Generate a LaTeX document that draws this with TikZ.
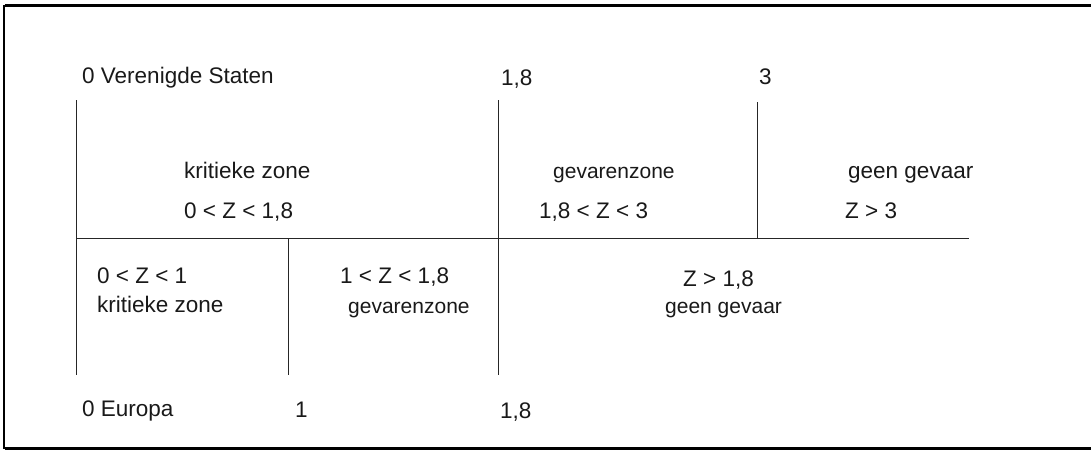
\documentclass[tikz,border=0pt]{standalone}
\usepackage{fontspec}
\setmainfont{Liberation Sans}
\begin{document}
\begin{tikzpicture}[x=1pt,y=-1pt,
  lbl/.style={anchor=base west,inner sep=0pt,text=black!90,font=\fontsize{22.5}{26}\selectfont},
  slbl/.style={lbl,font=\fontsize{21}{25}\selectfont},
  grid/.style={line width=1pt,black!85}]
\useasboundingbox (0,0) rectangle (1091,452);
% frame (open at the right)
\draw[line width=3pt] (1100,6) -- (5,6);
\draw[line width=1.4pt] (4,5) -- (4,449);
\draw[line width=3pt] (5,448.5) -- (1100,448.5);
% grid coordinates
\coordinate (aT) at (76,100);  \coordinate (aB) at (76,375);
\coordinate (bT) at (498,100); \coordinate (bB) at (498,375);
\coordinate (cT) at (757,102); \coordinate (cB) at (757,238);
\coordinate (dT) at (288,238); \coordinate (dB) at (288,375);
\coordinate (hL) at (76,238);  \coordinate (hR) at (969,238);
\draw[grid] (aT) -- (aB);
\draw[grid] (bT) -- (bB);
\draw[grid] (cT) -- (cB);
\draw[grid] (dT) -- (dB);
\draw[grid] (hL) -- (hR);
% top scale
\node[lbl] (us)  at (82,83)  {0 Verenigde Staten};
\node[lbl] (u18) at (501,85) {1,8};
\node[lbl] (u3)  at (759,84) {3};
% upper zones
\node[lbl] (k1) at (184,178) {kritieke zone};
\node[lbl] (k2) at (184,218) {0 < Z < 1,8};
\node[slbl] (g1) at (553,178) {gevarenzone};
\node[lbl] (g2) at (539,218) {1,8 < Z < 3};
\node[lbl] (n1) at (848,178) {geen gevaar};
\node[lbl] (n2) at (845,218) {Z > 3};
% lower zones
\node[lbl] (ek1) at (97,283)  {0 < Z < 1};
\node[lbl] (ek2) at (97,312)  {kritieke zone};
\node[lbl] (eg1) at (340,283) {1 < Z < 1,8};
\node[slbl] (eg2) at (348,313) {gevarenzone};
\node[lbl] (en1) at (683,286) {Z > 1,8};
\node[slbl] (en2) at (665,313) {geen gevaar};
% bottom scale
\node[lbl] (eu)  at (82,416)  {0 Europa};
\node[lbl] (e1)  at (295,417) {1};
\node[lbl] (e18) at (500,418) {1,8};
\end{tikzpicture}
\end{document}
